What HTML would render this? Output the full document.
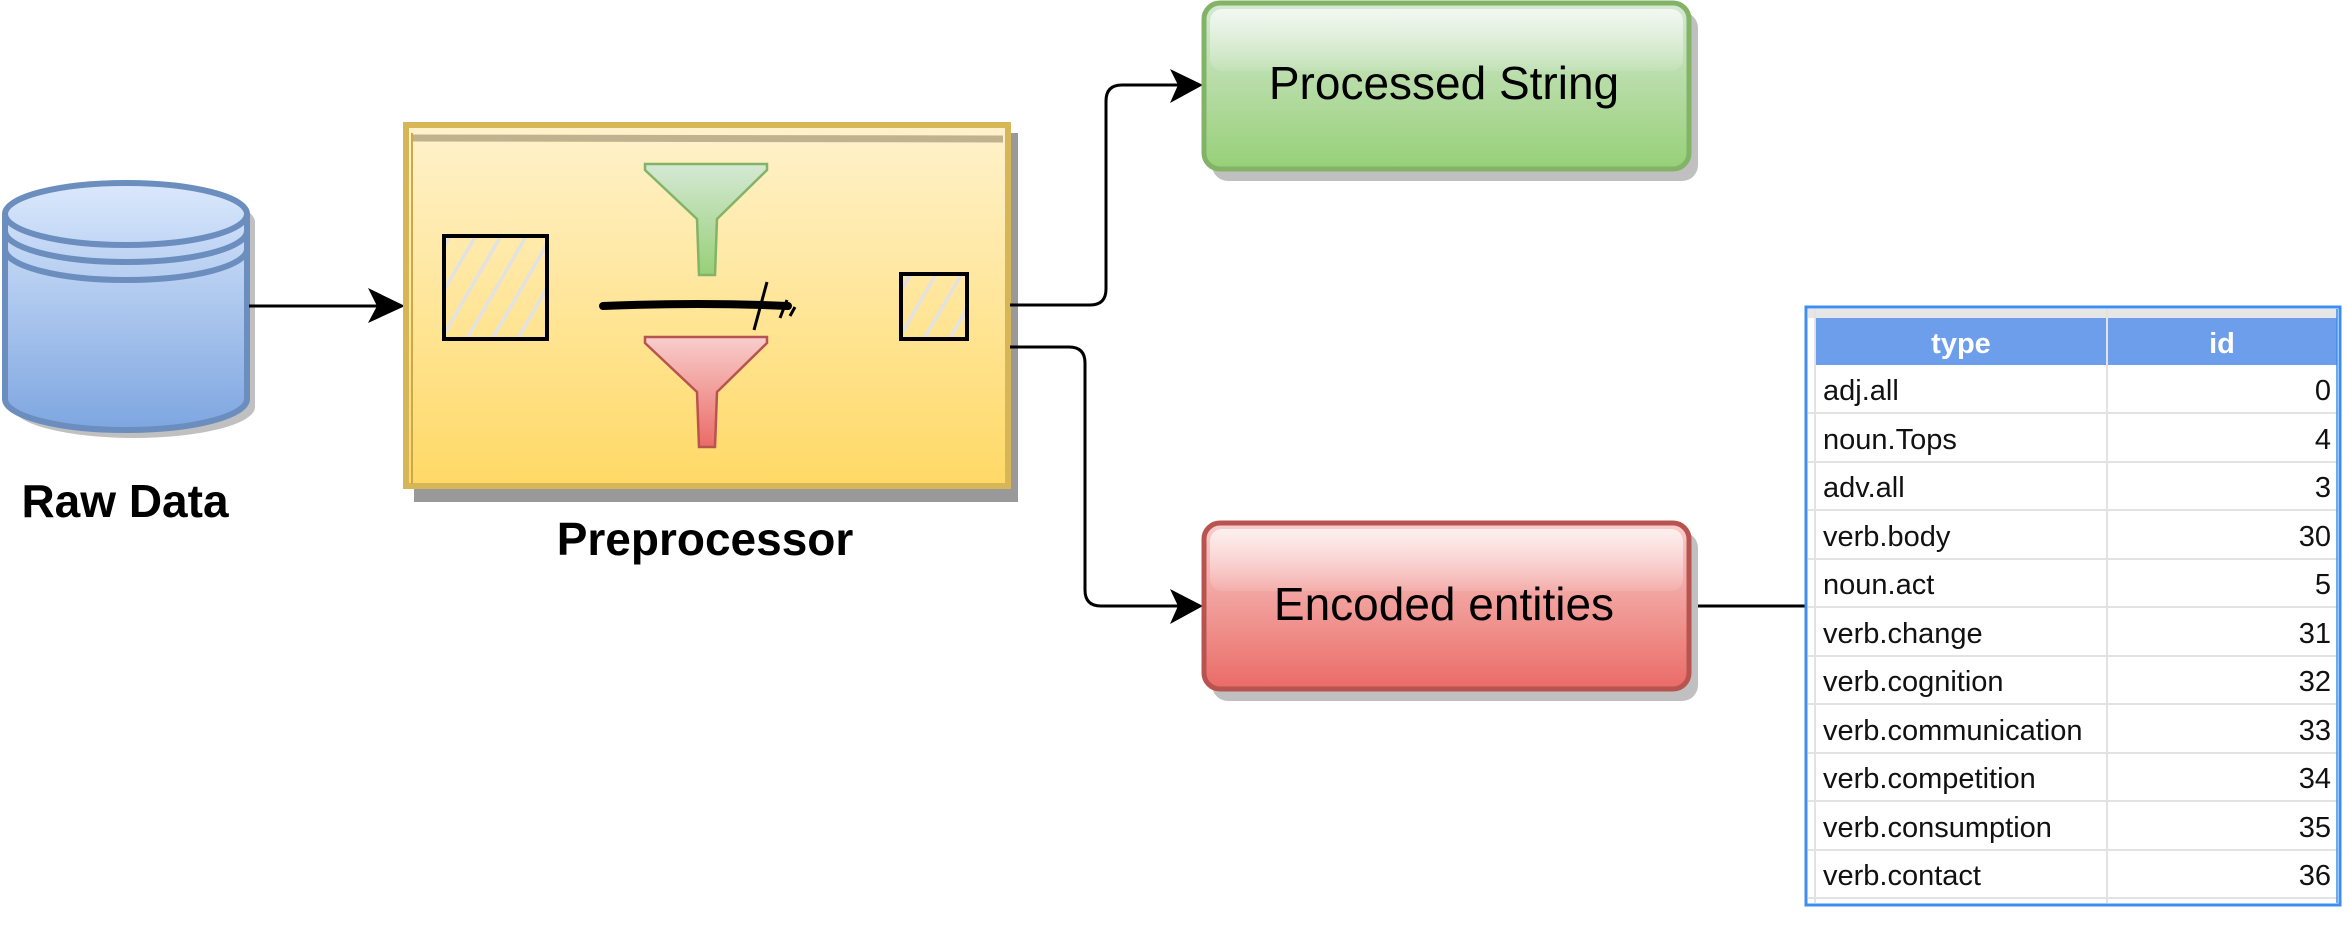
<!DOCTYPE html>
<html><head><meta charset="utf-8"><style>
html,body{margin:0;padding:0;background:#fff;}
svg{display:block;}
text{font-family:"Liberation Sans",Arial,sans-serif;}
</style></head><body>
<svg width="2348" height="940" viewBox="0 0 2348 940" xmlns="http://www.w3.org/2000/svg">
<defs>
<linearGradient id="cyl" x1="0" y1="0" x2="0" y2="1"><stop offset="0" stop-color="#dae8fc"/><stop offset="1" stop-color="#7ea6e0"/></linearGradient>
<linearGradient id="yel" x1="0" y1="0" x2="0" y2="1"><stop offset="0" stop-color="#fff2cc"/><stop offset="1" stop-color="#ffd966"/></linearGradient>
<linearGradient id="grn" x1="0" y1="0" x2="0" y2="1"><stop offset="0" stop-color="#d5e8d4"/><stop offset="1" stop-color="#97d077"/></linearGradient>
<linearGradient id="red" x1="0" y1="0" x2="0" y2="1"><stop offset="0" stop-color="#f8cecc"/><stop offset="1" stop-color="#ea6b66"/></linearGradient>
<linearGradient id="glass" x1="0" y1="0" x2="0" y2="1"><stop offset="0" stop-color="#fff" stop-opacity="0.7"/><stop offset="1" stop-color="#fff" stop-opacity="0.1"/></linearGradient>
<pattern id="hatch" width="22" height="22" patternUnits="userSpaceOnUse" patternTransform="rotate(30)"><rect width="22" height="22" fill="none"/><line x1="0" y1="0" x2="0" y2="22" stroke="#e2e2e2" stroke-width="7"/></pattern>
</defs>

<path d="M13,222 a121,31 0 0 1 242,0 V407 a121,31 0 0 1 -242,0 Z" fill="#c0c0c0"/>
<path d="M5,214 a121,31 0 0 1 242,0 V399 a121,31 0 0 1 -242,0 Z" fill="url(#cyl)" stroke="#6c8ebf" stroke-width="6"/>
<path d="M5,214 a121,31 0 0 0 242,0" fill="none" stroke="#6c8ebf" stroke-width="6"/>
<path d="M5,231 a121,31 0 0 0 242,0" fill="none" stroke="#6c8ebf" stroke-width="6"/>
<path d="M5,249 a121,31 0 0 0 242,0" fill="none" stroke="#6c8ebf" stroke-width="6"/>
<text x="125" y="517" font-size="46" font-weight="bold" text-anchor="middle">Raw Data</text>

<line x1="249" y1="306" x2="380" y2="306" stroke="#000" stroke-width="3"/>
<polygon points="405,306 368,288 377,306 368,323" fill="#000"/>

<rect x="414" y="133" width="604" height="369" fill="#999"/>
<rect x="406" y="125" width="602" height="361" fill="url(#yel)"/>
<rect x="406" y="125" width="602" height="361" fill="none" stroke="#d6b656" stroke-width="6"/>
<line x1="412" y1="138" x2="1003" y2="139" stroke="#c0b28e" stroke-width="7"/>
<line x1="412" y1="133" x2="412" y2="484" stroke="#c9a94c" stroke-width="2"/>
<text x="705" y="555" font-size="46" font-weight="bold" text-anchor="middle">Preprocessor</text>

<rect x="444" y="236" width="103" height="103" fill="url(#hatch)" stroke="#000" stroke-width="4"/>
<rect x="901" y="274" width="66" height="65" fill="url(#hatch)" stroke="#000" stroke-width="4"/>

<polygon points="645,164 767,164 767,170 717,219 715,275 699,275 697,219 645,170" fill="url(#grn)" stroke="#82b366" stroke-width="2.5"/>
<polygon points="645,337 767,337 767,343 717,392 715,447 699,447 697,392 645,343" fill="url(#red)" stroke="#b85450" stroke-width="2.5"/>

<path d="M603,306 Q700,302 788,306" stroke="#000" stroke-width="8" stroke-linecap="round" fill="none"/>
<line x1="767" y1="282" x2="754" y2="330" stroke="#000" stroke-width="3"/>
<line x1="787" y1="300" x2="780" y2="318" stroke="#000" stroke-width="3"/>
<line x1="795" y1="307" x2="790" y2="316" stroke="#000" stroke-width="3"/>

<path d="M1010,305 H1090 Q1106,305 1106,289 V101 Q1106,85 1122,85 H1180" fill="none" stroke="#000" stroke-width="3"/>
<polygon points="1203,85 1170,69 1178,85 1170,103" fill="#000"/>
<path d="M1010,347 H1069 Q1085,347 1085,363 V590 Q1085,606 1101,606 H1180" fill="none" stroke="#000" stroke-width="3"/>
<polygon points="1203,606 1170,589 1178,606 1170,624" fill="#000"/>
<line x1="1689" y1="606" x2="1806" y2="606" stroke="#000" stroke-width="3"/>

<rect x="1212" y="12" width="486" height="169" rx="16" fill="#c0c0c0"/>
<rect x="1204" y="3" width="485" height="166" rx="16" fill="url(#grn)" stroke="#82b366" stroke-width="5"/>
<rect x="1210" y="9" width="473" height="62" rx="12" fill="url(#glass)"/>
<text x="1444" y="99" font-size="46" text-anchor="middle">Processed String</text>

<rect x="1212" y="532" width="486" height="169" rx="16" fill="#c0c0c0"/>
<rect x="1204" y="523" width="485" height="166" rx="16" fill="url(#red)" stroke="#b85450" stroke-width="5"/>
<rect x="1210" y="529" width="473" height="62" rx="12" fill="url(#glass)"/>
<text x="1444" y="620" font-size="46" text-anchor="middle">Encoded entities</text>

<rect x="1806" y="307" width="534" height="598" fill="#fff"/>
<rect x="1808" y="309" width="530" height="9" fill="#e6e6e6"/>
<rect x="1815" y="318" width="522" height="47" fill="#6d9eeb"/>
<line x1="2107" y1="309" x2="2107" y2="903" stroke="#e2e2e2" stroke-width="2"/>
<line x1="1815" y1="309" x2="1815" y2="903" stroke="#e2e2e2" stroke-width="2"/>
<g stroke="#e2e2e2" stroke-width="2">
<line x1="1808" y1="413" x2="2337" y2="413"/><line x1="1808" y1="462" x2="2337" y2="462"/>
<line x1="1808" y1="510" x2="2337" y2="510"/><line x1="1808" y1="559" x2="2337" y2="559"/>
<line x1="1808" y1="607" x2="2337" y2="607"/><line x1="1808" y1="656" x2="2337" y2="656"/>
<line x1="1808" y1="704" x2="2337" y2="704"/><line x1="1808" y1="753" x2="2337" y2="753"/>
<line x1="1808" y1="801" x2="2337" y2="801"/><line x1="1808" y1="850" x2="2337" y2="850"/>
<line x1="1808" y1="898" x2="2337" y2="898"/>
</g>
<text x="1961" y="353" font-size="29" font-weight="bold" fill="#fff" text-anchor="middle">type</text>
<text x="2222" y="353" font-size="29" font-weight="bold" fill="#fff" text-anchor="middle">id</text>
<g font-size="29" fill="#111">
<text x="1823" y="400">adj.all</text><text x="2331" y="400" text-anchor="end">0</text>
<text x="1823" y="449">noun.Tops</text><text x="2331" y="449" text-anchor="end">4</text>
<text x="1823" y="497">adv.all</text><text x="2331" y="497" text-anchor="end">3</text>
<text x="1823" y="546">verb.body</text><text x="2331" y="546" text-anchor="end">30</text>
<text x="1823" y="594">noun.act</text><text x="2331" y="594" text-anchor="end">5</text>
<text x="1823" y="643">verb.change</text><text x="2331" y="643" text-anchor="end">31</text>
<text x="1823" y="691">verb.cognition</text><text x="2331" y="691" text-anchor="end">32</text>
<text x="1823" y="740">verb.communication</text><text x="2331" y="740" text-anchor="end">33</text>
<text x="1823" y="788">verb.competition</text><text x="2331" y="788" text-anchor="end">34</text>
<text x="1823" y="837">verb.consumption</text><text x="2331" y="837" text-anchor="end">35</text>
<text x="1823" y="885">verb.contact</text><text x="2331" y="885" text-anchor="end">36</text>
</g>
<rect x="1806" y="307" width="534" height="598" fill="none" stroke="#3d8ef0" stroke-width="3"/>
<line x1="2337" y1="309" x2="2337" y2="903" stroke="#3d8ef0" stroke-width="1.5"/>
</svg>
</body></html>
